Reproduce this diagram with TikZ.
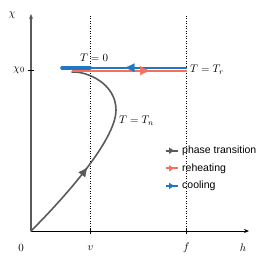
\documentclass[tikz,border=0pt]{standalone}
\usepackage{fontspec}
\newfontfamily\legendfont{Liberation Sans}
\usetikzlibrary{arrows.meta, positioning, decorations.markings}
\definecolor{pathgray}{HTML}{5A5A5A}
\definecolor{reheatred}{HTML}{FA6E5C}
\definecolor{coolblue}{HTML}{1F78C1}

\begin{document}
\begin{tikzpicture}[
    x=1pt, y=1pt,
    >=Stealth,
    axis/.style={draw=pathgray, line width=1.1pt, -{Stealth[length=5pt, width=4pt]}},
    guide/.style={draw, dotted, line width=0.5pt},
    lbl/.style={font=\fontsize{11}{13}\selectfont, inner sep=1pt},
    legtext/.style={font=\legendfont\fontsize{10.5}{12}\selectfont, inner sep=0pt, anchor=west},
    midtip/.style={postaction={decorate},
                   decoration={markings, mark=at position #1 with {\arrow{Latex[length=10pt, width=9pt]}}}},
    legarrow/.style={line width=2pt, postaction={decorate},
                     decoration={markings, mark=at position 0.75 with {\arrow{Latex[length=6pt, width=7pt]}}}}
  ]
  \useasboundingbox (-31,-35) rectangle (240,231);

  % axes
  \coordinate (orig) at (0,0);
  \coordinate (ytop) at (0,217);
  \coordinate (xend) at (218,0);
  \draw[guide] (59.5,0) -- (59.5,217);
  \draw[guide] (155.5,0) -- (155.5,217);
  \draw[axis, draw=black, line width=0.8pt] (orig) -- (xend);
  \draw[axis] (orig) -- (ytop);
  \draw[line width=0.8pt] (59.5,-3) -- (59.5,2);
  \draw[line width=0.8pt] (155.5,-3) -- (155.5,2);
  \draw[line width=0.8pt] (-3,161) -- (3,161);

  \node[lbl] (chi) at (-19,216) {$\chi$};
  \node[lbl, anchor=east] (chizero) at (-5,161) {$\chi_0$};
  \node[lbl] (zero) at (-10,-17) {$0$};
  \node[lbl] (vev) at (59.5,-17) {$v$};
  \node[lbl] (fscale) at (155.5,-17) {$f$};
  \node[lbl] (hlab) at (212,-17) {$h$};

  % paths
  \coordinate (nucl) at (41,159);
  \draw[pathgray, line width=1.6pt, line cap=round, midtip=0.40]
    (orig) .. controls (30,30) and (85,90) .. (85,121)
           .. controls (85,148) and (55,160) .. (nucl);
  \coordinate (rstart) at (41,160.3);
  \coordinate (rend) at (156,160.3);
  \coordinate (bstart) at (156,163.3);
  \coordinate (bend) at (31,163.3);
  \draw[reheatred, line width=2pt] (rstart) -- (rend);
  \draw[coolblue, line width=3.6pt, line cap=round] (59,163.3) -- (bend);
  \draw[coolblue, line width=2pt] (bstart) -- (bend);
  % heads on top of both lines
  \path[coolblue, midtip=0.50] (bstart) -- (bend);
  \path[reheatred, midtip=0.68] (rstart) -- (rend);

  \node[lbl] (tzero) at (63,173) {$T=0$};
  \node[lbl, anchor=west] (treh) at (158,161) {$T=T_r$};
  \node[lbl, anchor=west] (tnuc) at (87,110) {$T=T_n$};

  % legend
  \node[legtext] (lgphase) at (151,80.3) {phase transition};
  \node[legtext, below=17.6pt of lgphase.west, anchor=west] (lgreheat) {reheating};
  \node[legtext, below=17.6pt of lgreheat.west, anchor=west] (lgcool) {cooling};
  \draw[legarrow, pathgray] ([xshift=-16pt]lgphase.west) -- ([xshift=-4pt]lgphase.west);
  \draw[legarrow, reheatred] ([xshift=-16pt]lgreheat.west) -- ([xshift=-4pt]lgreheat.west);
  \draw[legarrow, coolblue] ([xshift=-16pt]lgcool.west) -- ([xshift=-4pt]lgcool.west);
\end{tikzpicture}
\end{document}
